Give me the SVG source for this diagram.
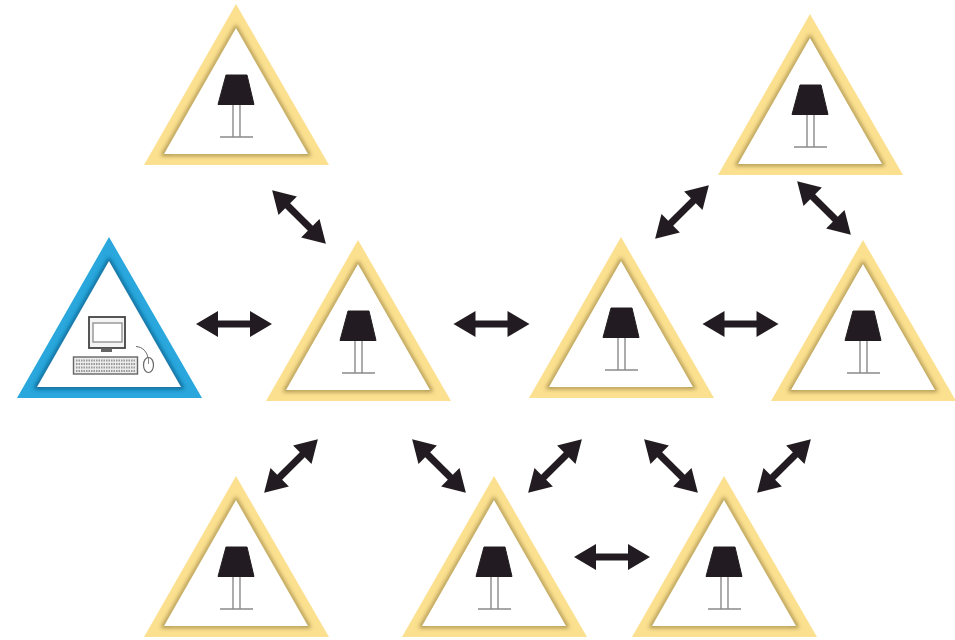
<svg xmlns="http://www.w3.org/2000/svg" xmlns:xlink="http://www.w3.org/1999/xlink" width="955" height="640" viewBox="0 0 955 640">
<style>
.y{fill:#fbe08f}.ys{fill:none;stroke:#a8914e;stroke-width:4}
.b{fill:#29a7dc}.bs{fill:none;stroke:#0d5f8c;stroke-width:4}
.in{fill:#fff}
.shade{fill:#231f20;stroke:#231f20;stroke-width:1;stroke-linejoin:round}
.pole{fill:none;stroke:#8a8a8a;stroke-width:1.4}
.arr{fill:#231f20}
.k{fill:#ececec;stroke:#666;stroke-width:1.400}
.d{stroke:#999;stroke-width:1.800;stroke-dasharray:1.500 1;fill:none}
</style>
<defs>
<filter id="blur" x="-20%" y="-20%" width="140%" height="140%"><feGaussianBlur stdDeviation="2"/></filter>
<filter id="soft" x="-5%" y="-5%" width="110%" height="110%"><feGaussianBlur stdDeviation="0.500"/></filter>
<polygon id="outer" points="92,0 185,161 0,161"/>
<polygon id="inner" points="92,24 164,150 20,150"/>
<clipPath id="c"><use xlink:href="#outer"/></clipPath>
<g id="lamp">
<polygon class="shade" points="82,71 103,71 110,100.500 74,100.500"/>
<path class="pole" d="M89,101V133M96,101V133"/>
<path class="pole" d="M76,133H109"/>
</g>
<g id="tri"><use xlink:href="#outer" class="y"/><g clip-path="url(#c)"><use xlink:href="#inner" class="ys" filter="url(#blur)"/></g><use xlink:href="#inner" class="in"/><use xlink:href="#lamp"/></g>
<polygon id="a" class="arr" points="-38,0 -16,-13 -16,-3.500 16,-3.500 16,-13 38,0 16,13 16,3.500 -16,3.500 -16,13"/>
</defs>
<g filter="url(#soft)">
<g id="node-top-left" transform="translate(144,4)"><use xlink:href="#tri"/></g>
<g id="node-top-right" transform="translate(718,14)"><use xlink:href="#tri"/></g>
<g id="node-computer" transform="translate(17,237)">
<use xlink:href="#outer" class="b"/><g clip-path="url(#c)"><use xlink:href="#inner" class="bs" filter="url(#blur)"/></g><use xlink:href="#inner" class="in"/>
<rect x="72" y="80" width="36" height="31" fill="#f4f4f4" stroke="#444" stroke-width="1.800"/>
<rect x="76" y="86" width="29" height="19" fill="#fff" stroke="#999" stroke-width="1.500"/>
<rect x="84" y="111.500" width="11" height="3.500" fill="#666"/>
<rect class="k" x="56.500" y="120" width="64" height="17"/>
<path class="d" d="M59,123.500H118M59,127H118M59,130.500H118M59,134H118"/>
<path d="M119,109.500C126,110 130,115 131,121" fill="none" stroke="#666" stroke-width="1"/>
<ellipse cx="131.500" cy="128" rx="5" ry="7.500" fill="#fff" stroke="#666" stroke-width="1.200"/>
<path d="M131.500,121V127" stroke="#888" stroke-width="1"/>
</g>
<g id="node-center-1" transform="translate(266,240)"><use xlink:href="#tri"/></g>
<g id="node-center-2" transform="translate(529,237)"><use xlink:href="#tri"/></g>
<g id="node-right" transform="translate(771,240)"><use xlink:href="#tri"/></g>
<g id="node-bottom-1" transform="translate(144,476)"><use xlink:href="#tri"/></g>
<g id="node-bottom-2" transform="translate(402,476)"><use xlink:href="#tri"/></g>
<g id="node-bottom-3" transform="translate(632,476)"><use xlink:href="#tri"/></g>
<g id="connectors">
<use xlink:href="#a" transform="translate(234,324)"/>
<use xlink:href="#a" transform="translate(491.500,324)"/>
<use xlink:href="#a" transform="translate(740.500,324)"/>
<use xlink:href="#a" transform="translate(612,557)"/>
<use xlink:href="#a" transform="translate(299,217) rotate(45)"/>
<use xlink:href="#a" transform="translate(682,212) rotate(-45)"/>
<use xlink:href="#a" transform="translate(824,208) rotate(45)"/>
<use xlink:href="#a" transform="translate(291,466) rotate(-45)"/>
<use xlink:href="#a" transform="translate(439,466) rotate(45)"/>
<use xlink:href="#a" transform="translate(555,466) rotate(-45)"/>
<use xlink:href="#a" transform="translate(671,466) rotate(45)"/>
<use xlink:href="#a" transform="translate(784,466) rotate(-45)"/>
</g>
</g>
</svg>
